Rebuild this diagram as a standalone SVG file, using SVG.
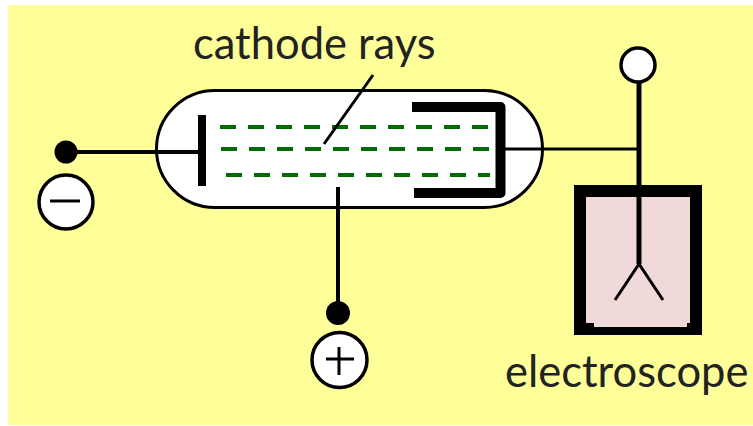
<svg xmlns="http://www.w3.org/2000/svg" width="753" height="426" viewBox="0 0 753 426">
<style>
.w{stroke:#000;fill:none;stroke-linecap:butt}
.d{stroke:#006b00;stroke-width:4;fill:none;stroke-dasharray:16 12}
.c{fill:#fff;stroke:#000;stroke-width:3.5}
.t{font-family:Lato,"Liberation Sans",sans-serif;font-size:43.500px;fill:#222}
</style>
<rect width="753" height="426" fill="#fff"/>
<rect x="8" y="5" width="745" height="420" fill="#ffff99"/>
<g id="tube">
<rect x="156.500" y="90.500" width="386" height="117" rx="58.500" fill="#fff" stroke="#000" stroke-width="3"/>
</g>
<g id="rays">
<line class="d" x1="220" y1="127" x2="497" y2="127"/>
<line class="d" x1="221" y1="149" x2="490" y2="149"/>
<line class="d" x1="226" y1="175" x2="490" y2="175"/>
</g>
<g id="connectors">
<line class="w" stroke-width="4" x1="66" y1="152" x2="200" y2="152"/>
<line class="w" stroke-width="3" x1="505" y1="149" x2="640" y2="149"/>
<line class="w" stroke-width="4" x1="338" y1="187" x2="338" y2="313"/>
<line class="w" stroke-width="3" x1="373" y1="75" x2="324" y2="144"/>
<line class="w" stroke-width="5" x1="639" y1="80" x2="639" y2="190"/>
</g>
<g id="cathode"><rect x="198" y="115" width="8" height="71" fill="#000"/></g>
<g id="anode"><path class="w" stroke-width="10" stroke-linejoin="round" d="M412 107H500.500V193H414"/></g>
<g id="negative-terminal">
<circle cx="66" cy="152" r="11.500" fill="#000"/>
<circle class="c" cx="66" cy="202" r="27"/>
<line class="w" stroke-width="3" x1="50" y1="201" x2="80" y2="201"/>
</g>
<g id="positive-terminal">
<circle cx="338" cy="313" r="12" fill="#000"/>
<circle class="c" cx="339.500" cy="360" r="27.500"/>
<path class="w" stroke-width="3" d="M326 359H354M339 347V375"/>
</g>
<g id="electroscope">
<path fill-rule="evenodd" d="M574 185H702V335H574Z" fill="#000"/>
<path d="M586 197H690V323H687V327H594V323H586Z" fill="#f2d9d9"/>
<line class="w" stroke-width="5" x1="639" y1="190" x2="639" y2="264"/>
<path class="w" stroke-width="3" d="M615 300L639 264L663 300"/>
<circle class="c" cx="638" cy="65" r="17"/>
</g>
<g id="labels">
<text class="t" x="193" y="59">cathode rays</text>
<text class="t" x="505" y="387">electroscope</text>
</g>
</svg>
